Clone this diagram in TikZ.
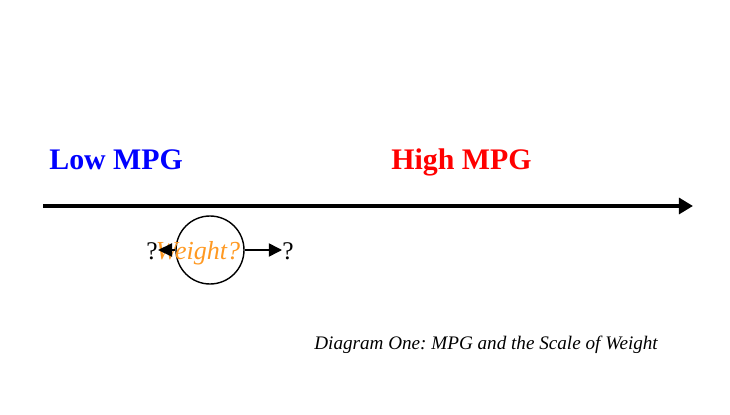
\documentclass[tikz,border=0pt]{standalone}
\usepackage{fontspec}
\setmainfont{Liberation Serif}
\usetikzlibrary{arrows.meta}
\definecolor{weightorange}{RGB}{255,153,34}
\frenchspacing

\begin{document}
\begin{tikzpicture}[x=0.02cm,y=-0.02cm]
	\useasboundingbox (0,0) rectangle (730,415);
	\node (0) at (43, 206) {};
	\node (1) at (693, 206) {};
	\node [anchor=base west, inner sep=0, text=blue, font=\fontsize{17}{20}\selectfont\bfseries] (10) at (49, 170) {Low MPG};
	\node [anchor=base west, inner sep=0, text=red, font=\fontsize{17}{20}\selectfont\bfseries] (11) at (391, 170) {High MPG};
	\node [draw, circle, line width=0.8pt, minimum size=1.36cm, inner sep=0] (2) at (210, 250) {};
	\node [anchor=base, inner sep=0, text=weightorange, font=\fontsize{14.8}{17}\selectfont\itshape] (3) at (198, 259) {Weight?};
	\node [anchor=base east, inner sep=0, font=\fontsize{14.5}{17}\selectfont] (4) at (158, 259) {?};
	\node [anchor=base west, inner sep=0, font=\fontsize{14.5}{17}\selectfont] (5) at (282, 259) {?};
	\node [anchor=base west, inner sep=0, font=\fontsize{10.9}{13}\selectfont\itshape] (12) at (314, 349) {Diagram One: MPG and the Scale of Weight};
	% edges
	\draw [line width=2.2pt, -{Triangle[length=8pt,width=9pt]}] (0.center) to (1.center);
	\draw [line width=0.85pt, -{Triangle[length=8pt,width=7.5pt]}] (2.west) to (4.east |- 2.west);
	\draw [line width=0.85pt, -{Triangle[length=7.5pt,width=7.5pt]}] (2.east) to (5.west |- 2.east);
\end{tikzpicture}
\end{document}
